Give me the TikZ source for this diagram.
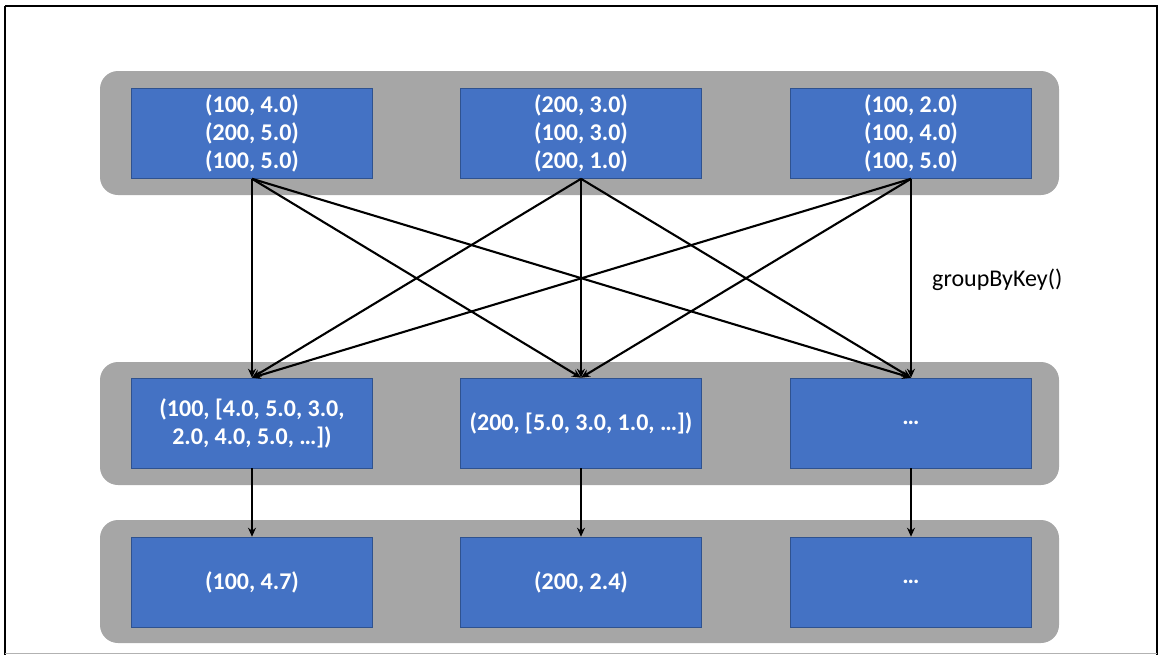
\documentclass[tikz,border=0pt]{standalone}
\usepackage{fontspec}
\setmainfont{Carlito}
\usetikzlibrary{arrows.meta}
\definecolor{bandgray}{HTML}{A6A6A6}
\definecolor{boxblue}{HTML}{4472C4}
\definecolor{boxedge}{HTML}{2F528F}
\tikzset{
  band/.style={fill=bandgray, draw=none, rounded corners=18pt},
  bluebox/.style={fill=boxblue, draw=boxedge, line width=0.6pt, minimum width=241pt, minimum height=90pt, inner sep=0pt, text=white, font=\fontsize{24}{28}\selectfont\bfseries, align=center},
  conn/.style={draw=black, line width=2.1pt, -{Stealth[length=9pt,width=8pt]}},
}
\begin{document}
\begin{tikzpicture}[x=1pt,y=-1pt]
\useasboundingbox (0,0) rectangle (1162,654);
\draw[line width=2.5pt] (5,6) -- (1157,6) -- (1157,660) (5,6) -- (5,660);
\draw[line width=1pt, gray!60] (5,653.5) -- (1157,653.5);
% bands
\fill[band] (100,71) rectangle (1059,195);
\fill[band] (100,362) rectangle (1059,485);
\fill[band] (100,520) rectangle (1059,643);
% top row
\node[bluebox] (t1) at (252,133.5) {(100, 4.0)\\(200, 5.0)\\(100, 5.0)};
\node[bluebox] (t2) at (581,133.5) {(200, 3.0)\\(100, 3.0)\\(200, 1.0)};
\node[bluebox] (t3) at (911,133.5) {(100, 2.0)\\(100, 4.0)\\(100, 5.0)};
% middle row
\node[bluebox] (m1) at (252,423) {(100, [4.0, 5.0, 3.0,\\2.0, 4.0, 5.0, …])};
\node[bluebox] (m2) at (581,423) {(200, [5.0, 3.0, 1.0, …])};
\node[bluebox] (m3) at (911,423) {…};
% bottom row
\node[bluebox] (b1) at (252,582) {(100, 4.7)};
\node[bluebox] (b2) at (581,582) {(200, 2.4)};
\node[bluebox] (b3) at (911,582) {…};
% shuffle connectors
\foreach \s in {t1,t2,t3}{
  \foreach \d in {m1,m2,m3}{
    \draw[conn] (\s.south) -- (\d.north);
  }
}
\draw[conn] (m1.south) -- (b1.north);
\draw[conn] (m2.south) -- (b2.north);
\draw[conn] (m3.south) -- (b3.north);
\node[anchor=west, font=\fontsize{24}{28}\selectfont, inner sep=0pt] (lbl) at (932,280) {groupByKey()};
\end{tikzpicture}
\end{document}
